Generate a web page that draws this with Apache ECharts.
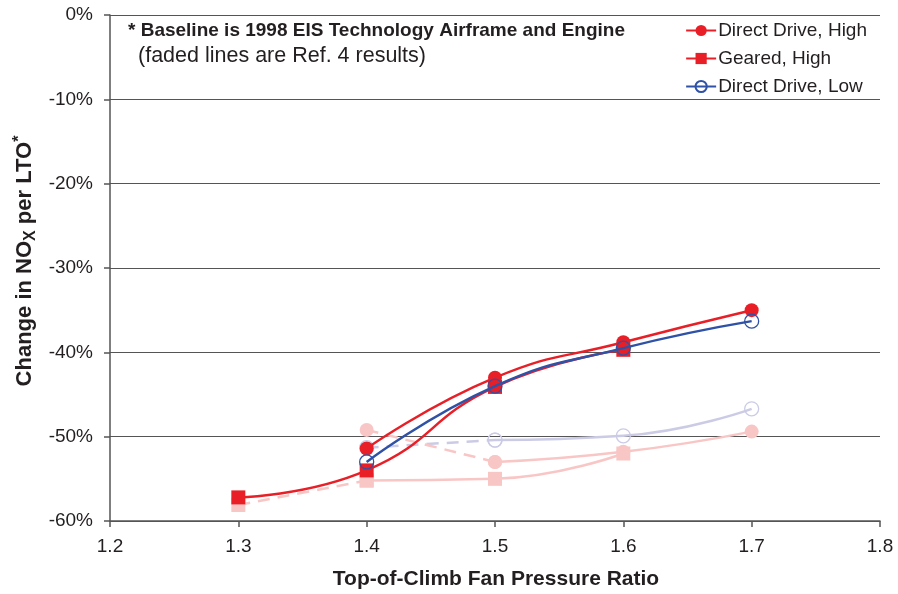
<!DOCTYPE html>
<html>
<head>
<meta charset="utf-8">
<script src="https://cdn.jsdelivr.net/npm/echarts@6/dist/echarts.min.js"></script>
<style>html,body{margin:0;padding:0;background:#fff}#c{width:898px;height:594px}</style>
</head>
<body>
<div id="c"></div>
<script>
// Fan pressure ratios
const fprDDHigh = [1.4, 1.5, 1.6, 1.7];
const ddHigh = [-51.4, -43.0, -38.8, -35.0];
const fprGeared = [1.3, 1.4, 1.5, 1.6];
const gearedHigh = [-57.2, -54.0, -44.1, -39.7];
const fprDDLow = [1.4, 1.5, 1.6, 1.7];
const ddLow = [-53.0, -44.0, -39.5, -36.3];
// Faded (Ref. 4) results
const refDDHighX = [1.4, 1.5, 1.6, 1.7];
const refDDHigh = [-49.2, -53.0, -51.8, -49.4];
const refGearedX = [1.3, 1.4, 1.5, 1.6];
const refGeared = [-58.1, -55.2, -55.0, -52.0];
const refDDLowX = [1.4, 1.5, 1.6, 1.7];
const refDDLow = [-51.3, -50.4, -49.9, -46.7];
const xTicks = [1.2, 1.3, 1.4, 1.5, 1.6, 1.7, 1.8];
const yTicks = [-60, -50, -40, -30, -20, -10, 0];

const pair = (xs, ys) => xs.map((x, i) => [x, ys[i]]);
const sub = (xs, ys, a, b) => pair(xs.slice(a, b), ys.slice(a, b));

const RED = '#e81f27', BLUE = '#2f52a6', PINK = '#f9c6c6', LAV = '#cbcbe6';
const TXT = '#231f20';
const FONT = 'Liberation Sans, Arial, sans-serif';

const chart = echarts.init(document.getElementById('c'), null, {renderer: 'canvas'});
const faded = (name, data, color, symbol, dashed, filled) => ({
  name, type: 'line', data, smooth: 0.5, z: 1,
  symbol: symbol, symbolSize: 14, showSymbol: true,
  lineStyle: {color, width: 2.5, type: dashed ? [12, 8] : 'solid'},
  itemStyle: filled ? {color, borderColor: color, borderWidth: 0}
                    : {color: 'rgba(255,255,255,0)', borderColor: color, borderWidth: 1.3},
  emphasis: {disabled: true}, legendHoverLink: false, silent: true
});

chart.setOption({
  animation: false,
  textStyle: {fontFamily: FONT},
  grid: {left: 110, right: 18, top: 15, bottom: 73},
  legend: {
    data: ['Direct Drive, High', 'Geared, High', 'Direct Drive, Low'],
    orient: 'vertical', right: 26, top: 16, itemGap: 9,
    itemWidth: 30, itemHeight: 14, selectedMode: false,
    textStyle: {fontSize: 19, color: TXT, padding: [0, 0, 0, -3]}
  },
  xAxis: {
    type: 'value', min: 1.2, max: 1.8, interval: 0.1,
    axisLine: {show: true, onZero: false, lineStyle: {color: '#555', width: 1.5}},
    axisTick: {show: true, length: 6, lineStyle: {color: '#555', width: 1.5}},
    splitLine: {show: false},
    axisLabel: {fontSize: 19, color: TXT, margin: 16, formatter: v => v.toFixed(1)}
  },
  yAxis: {
    type: 'value', min: -60, max: 0, interval: 10,
    axisLine: {show: true, onZero: false, lineStyle: {color: '#555', width: 1.5}},
    axisTick: {show: true, length: 6, lineStyle: {color: '#555', width: 1.5}},
    splitLine: {show: true, lineStyle: {color: '#555', width: 1.2}},
    axisLabel: {fontSize: 19, color: TXT, margin: 17, formatter: '{value}%'}
  },
  graphic: [
    {type: 'text', left: 128, top: 21, z: 10,
     style: {text: '* Baseline is 1998 EIS Technology Airframe and Engine', fontSize: 19, fontWeight: 'bold', fill: TXT, fontFamily: FONT}},
    {type: 'text', left: 138, top: 45, z: 10,
     style: {text: '(faded lines are Ref. 4 results)', fontSize: 21.5, fill: TXT, fontFamily: FONT}},
    {type: 'text', x: 496, y: 579, z: 10,
     style: {text: 'Top-of-Climb Fan Pressure Ratio', fontSize: 21, fontWeight: 'bold', fill: TXT, align: 'center', verticalAlign: 'middle', fontFamily: FONT}},
    {type: 'text', x: 25, y: 261, rotation: Math.PI / 2, z: 10,
     style: {
       text: '{a|Change in NO}{s|X}{a| per LTO}{p|*}', align: 'center', verticalAlign: 'middle',
       fontFamily: FONT,
       rich: {
         a: {fontSize: 22, fontWeight: 'bold', fill: TXT, lineHeight: 27, fontFamily: FONT},
         s: {fontSize: 16, fontWeight: 'bold', fill: TXT, lineHeight: 16, verticalAlign: 'bottom', fontFamily: FONT},
         p: {fontSize: 16, fontWeight: 'bold', fill: TXT, lineHeight: 16, verticalAlign: 'top', fontFamily: FONT}
       }
     }}
  ],
  series: [
    faded('refDDLowDash', sub(refDDLowX, refDDLow, 0, 2), LAV, 'circle', true, false),
    faded('refDDLowSolid', sub(refDDLowX, refDDLow, 1, 4), LAV, 'circle', false, false),
    faded('refGearedDash', sub(refGearedX, refGeared, 0, 2), PINK, 'rect', true, true),
    faded('refGearedSolid', sub(refGearedX, refGeared, 1, 4), PINK, 'rect', false, true),
    faded('refDDHighDash', sub(refDDHighX, refDDHigh, 0, 2), PINK, 'circle', true, true),
    faded('refDDHighSolid', sub(refDDHighX, refDDHigh, 1, 4), PINK, 'circle', false, true),
    {name: 'Geared, High', type: 'line', data: pair(fprGeared, gearedHigh), smooth: 0.5, z: 3,
     symbol: 'rect', symbolSize: 14, lineStyle: {color: RED, width: 2.5},
     itemStyle: {color: RED}},
    {name: 'Direct Drive, High', type: 'line', data: pair(fprDDHigh, ddHigh), smooth: 0.5, z: 4,
     symbol: 'circle', symbolSize: 14, lineStyle: {color: RED, width: 2.5},
     itemStyle: {color: RED}},
    {name: 'Direct Drive, Low', type: 'line', data: pair(fprDDLow, ddLow), smooth: 0.5, z: 5,
     symbol: 'circle', symbolSize: 14, lineStyle: {color: BLUE, width: 2.5},
     itemStyle: {color: 'rgba(255,255,255,0)', borderColor: BLUE, borderWidth: 1.3}}
  ]
});
</script>
</body>
</html>
